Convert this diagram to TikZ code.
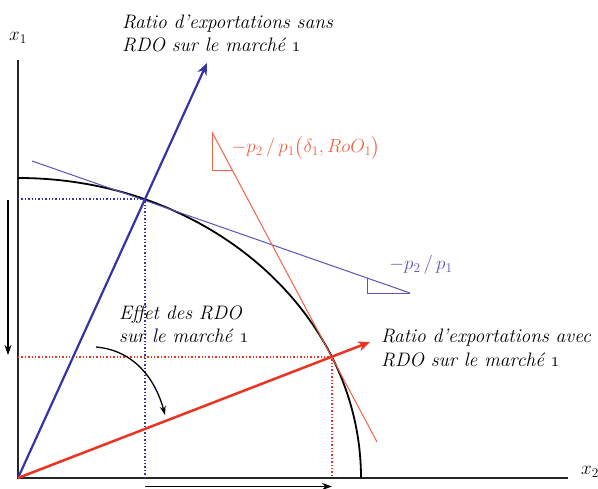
\RequirePackage{fix-cm}
\documentclass[tikz,border=0pt]{standalone}
\usepackage{amsmath,amssymb}
\usetikzlibrary{arrows.meta}

\definecolor{rayblue}{RGB}{55,50,165}
\definecolor{rayred}{RGB}{232,52,32}
\definecolor{slopered}{RGB}{240,100,70}
\definecolor{slopeblue}{RGB}{90,85,185}

\tikzset{
  lbl/.style={anchor=west,align=left,inner sep=0pt,font=\fontsize{19.5}{23.5}\selectfont\itshape},
  mathlbl/.style={inner sep=0pt,font=\fontsize{19}{23}\selectfont},
  guide/.style={dotted,line width=1.4pt},
  ray/.style={line width=2.2pt,-{Stealth[length=12pt,width=10pt]}},
  move/.style={line width=1.8pt,-{Stealth[length=10pt,width=7pt]}},
}

\begin{document}
\begin{tikzpicture}[x=1pt,y=1pt]
  \useasboundingbox (0,0) rectangle (598,489);
  \coordinate (O) at (18,11);
  \coordinate (ytop) at (18,429);
  \coordinate (xend) at (568,11);
  \coordinate (A) at (145,290);
  \coordinate (B) at (332,132);
  \coordinate (Ay) at (18,290);
  \coordinate (Ax) at (145,11);
  \coordinate (By) at (18,132);
  \coordinate (Bx) at (332,11);
  \coordinate (blueend) at (207,426);
  \coordinate (redend) at (370,147);
  \coordinate (bs) at (32,328);
  \coordinate (be) at (410,196);
  \coordinate (rs) at (212,357);
  \coordinate (re) at (377,47);

  % axes
  \draw[line width=1.3pt,black!85] (ytop) -- (O) -- (xend);
  \node[mathlbl] (xone) at (18,451) {$x_1$};
  \node[mathlbl] (xtwo) at (590,17) {$x_2$};

  % frontier
  \draw[line width=1.8pt] (18,311) arc[start angle=90,end angle=0,x radius=343,y radius=300];

  % price lines
  \draw[slopeblue,line width=1pt] (bs) -- (be);
  \draw[slopeblue,line width=0.8pt] (367,211) -- (367,196) -- (be);
  \node[mathlbl,slopeblue] (pblue) at (421,224) {$-p_2\,/\,p_1$};
  \draw[slopered,line width=1pt] (rs) -- (re);
  \draw[slopered,line width=0.8pt] (rs) -- (212,319) -- (232,319);
  \node[mathlbl,slopered] (pred) at (306,341) {$-p_2\,/\,p_1\bigl(\delta_1,RoO_1\bigr)$};

  % guides
  \draw[guide,rayblue] (Ay) -- (A) -- (Ax);
  \draw[guide,rayred] (By) -- (B) -- (Bx);

  % rays
  \draw[ray,rayblue] (O) -- (blueend);
  \draw[ray,rayred,line width=2.5pt] (O) -- (redend);

  % shifts
  \draw[move] (8,289) -- (8,134);
  \draw[move] (145,2.5) -- (332,2.5);
  \coordinate (cs) at (96,142);
  \coordinate (ce) at (165,74);
  \draw[line width=1.3pt,-{Stealth[length=9pt,width=6pt]}] (cs) to[out=-5,in=105] (ce);

  % labels
  \node[lbl] (sans) at (122,455.5) {Ratio d'exportations sans\\RDO sur le march\'e \oldstylenums{1}};
  \node[lbl] (avec) at (381,141) {Ratio d'exportations avec\\RDO sur le march\'e \oldstylenums{1}};
  \node[lbl] (effet) at (119,165) {Effet des RDO\\sur le march\'e \oldstylenums{1}};
\end{tikzpicture}
\end{document}
